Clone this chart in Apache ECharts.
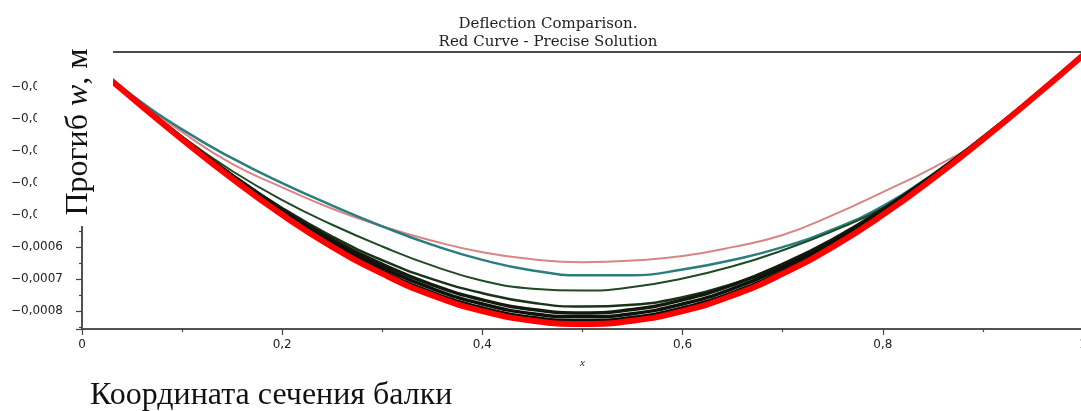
<!DOCTYPE html>
<html>
<head>
<meta charset="utf-8">
<script src="https://cdn.jsdelivr.net/npm/echarts@6/dist/echarts.min.js"></script>
<style>
    html, body { margin: 0; padding: 0; background: #fff; }
    #chart { width: 1081px; height: 411px; }
</style>
</head>
<body>
<div id="chart"></div>
<script>
'use strict';

// абсцисса сечения
var xs = [0, 0.05, 0.1, 0.15, 0.2, 0.25, 0.3, 0.35, 0.4, 0.45, 0.5,
    0.55, 0.6, 0.65, 0.7, 0.75, 0.8, 0.85, 0.9, 0.95, 1];

// точное решение (красная)
var precise = [0, -0.000134, -0.000263, -0.000386, -0.000499, -0.000599, -0.000683, -0.000751, -0.000800, -0.000830, -0.000840,
    -0.000830, -0.000800, -0.000751, -0.000683, -0.000599, -0.000499, -0.000386, -0.000263, -0.000134, 0];

// приближения
var approx1 = [0, -0.000128, -0.000240, -0.000340, -0.000413, -0.000480, -0.000535, -0.000580, -0.000616, -0.000638, -0.000647,
    -0.000642, -0.000628, -0.000600, -0.000562, -0.000500, -0.000428, -0.000352, -0.000262, -0.000134, 0];
var approx2 = [0, -0.000125, -0.000232, -0.000322, -0.000400, -0.000470, -0.000535, -0.000593, -0.000640, -0.000673, -0.000688,
    -0.000688, -0.000670, -0.000640, -0.000600, -0.000545, -0.000472, -0.000372, -0.000256, -0.000131, 0];
var approx3 = [0, -0.000132, -0.000255, -0.000362, -0.000453, -0.000530, -0.000598, -0.000658, -0.000705, -0.000730, -0.000736,
    -0.000725, -0.000698, -0.000660, -0.000610, -0.000550, -0.000478, -0.000376, -0.000258, -0.000132, 0];
var approx4 = [0, -0.000132, -0.000258, -0.000374, -0.000478, -0.000567, -0.000641, -0.000700, -0.000744, -0.000774, -0.000786,
    -0.000780, -0.000757, -0.000715, -0.000658, -0.000584, -0.000492, -0.000380, -0.000259, -0.000132, 0];
var approx5 = [0, -0.000131, -0.000257, -0.000375, -0.000482, -0.000576, -0.000654, -0.000718, -0.000765, -0.000795, -0.000806,
    -0.000795, -0.000765, -0.000718, -0.000654, -0.000576, -0.000482, -0.000375, -0.000257, -0.000131, 0];
var approx6 = [0, -0.000132, -0.000259, -0.000379, -0.000488, -0.000584, -0.000664, -0.000730, -0.000778, -0.000808, -0.000818,
    -0.000808, -0.000778, -0.000730, -0.000664, -0.000584, -0.000488, -0.000379, -0.000259, -0.000132, 0];
var approx7 = [0, -0.000133, -0.000261, -0.000383, -0.000494, -0.000592, -0.000675, -0.000742, -0.000790, -0.000820, -0.000830,
    -0.000820, -0.000790, -0.000742, -0.000675, -0.000592, -0.000494, -0.000383, -0.000261, -0.000133, 0];

var titleLines = ['Deflection Comparison.', 'Red Curve - Precise Solution'];
var xLabels = ['0', '0,2', '0,4', '0,6', '0,8', '1'];

function pairs(values) {
    return xs.map(function (x, i) {
        return [x, values[i]];
    });
}

function curve(values, color, width) {
    return {
        type: 'line',
        data: pairs(values),
        smooth: 0.5,
        showSymbol: false,
        silent: true,
        lineStyle: { color: color, width: width },
        z: 2
    };
}

var chart = echarts.init(document.getElementById('chart'));

chart.setOption({
    animation: false,
    backgroundColor: '#fff',
    title: {
        text: titleLines.join('\n'),
        left: 543,
        top: 10,
        textAlign: 'center',
        textStyle: {
            fontFamily: 'DejaVu Serif',
            fontSize: 15,
            fontWeight: 'normal',
            color: '#222',
            lineHeight: 18
        }
    },
    grid: {
        left: 82,
        right: -2,
        top: 52,
        bottom: 82,
        outerBoundsMode: 'none',
        containLabel: false,
        show: true,
        borderColor: '#111',
        borderWidth: 1.5
    },
    xAxis: {
        type: 'value',
        min: 0,
        max: 1,
        interval: 0.2,
        name: 'x',
        nameLocation: 'middle',
        nameGap: 29,
        nameTextStyle: {
            fontFamily: 'Liberation Serif',
            fontStyle: 'italic',
            fontSize: 11,
            color: '#222'
        },
        splitLine: { show: false },
        axisLine: { onZero: false, lineStyle: { color: '#555', width: 1.5 } },
        axisTick: { inside: false, length: 6, lineStyle: { color: '#444', width: 1.2 } },
        minorTick: { show: true, splitNumber: 2, length: 3, lineStyle: { color: '#444', width: 1.2 } },
        axisLabel: {
            margin: 10,
            fontFamily: 'DejaVu Sans',
            fontSize: 12,
            color: '#222',
            formatter: function (v) {
                return xLabels[Math.round(v * 5)];
            }
        }
    },
    yAxis: {
        type: 'value',
        min: -0.000856,
        max: 0.00001,
        splitNumber: 9,
        splitLine: { show: false },
        axisLine: { show: true, onZero: false, lineStyle: { color: '#555', width: 1.5 } },
        axisTick: { show: true, length: 6, lineStyle: { color: '#444', width: 1.2 } },
        minorTick: { show: true, splitNumber: 2, length: 3, lineStyle: { color: '#444', width: 1.2 } },
        axisLabel: {
            margin: 19,
            showMinLabel: false,
            showMaxLabel: false,
            fontFamily: 'DejaVu Sans',
            fontSize: 12,
            color: '#222',
            formatter: function (v) {
                if (v >= 0 || v < -0.00085) {
                    return '';
                }
                return '\u2212' + Math.abs(v).toFixed(4).replace('.', ',');
            }
        }
    },
    series: [
        curve(approx1, '#d98585', 2),
        curve(approx2, '#2b7d7f', 2.5),
        curve(approx3, '#1f4a22', 2),
        curve(approx4, '#1a3318', 2.5),
        curve(approx5, '#111a0c', 3.5),
        curve(approx6, '#0d130a', 3.5),
        curve(approx7, '#0a0f08', 3.5),
        curve(precise, '#ff0000', 6)
    ],
    graphic: [
        {
            // белая плашка с подписью оси прогиба
            type: 'rect',
            z: 100,
            shape: { x: 37, y: 0, width: 76, height: 226 },
            style: { fill: '#fff' }
        },
        {
            type: 'text',
            z: 101,
            x: 79,
            y: 132,
            rotation: Math.PI / 2,
            style: {
                text: '{a|Прогиб }{b|w}{a|, м}',
                align: 'center',
                verticalAlign: 'middle',
                rich: {
                    a: { fontFamily: 'Liberation Serif', fontSize: 32, fill: '#111' },
                    b: { fontFamily: 'Liberation Serif', fontStyle: 'italic', fontSize: 32, fill: '#111' }
                }
            }
        },
        {
            type: 'text',
            z: 101,
            x: 90,
            y: 396,
            style: {
                text: 'Координата сечения балки',
                fontFamily: 'Liberation Serif',
                fontSize: 32,
                fill: '#111',
                verticalAlign: 'middle'
            }
        }
    ]
});
</script>
</body>
</html>
